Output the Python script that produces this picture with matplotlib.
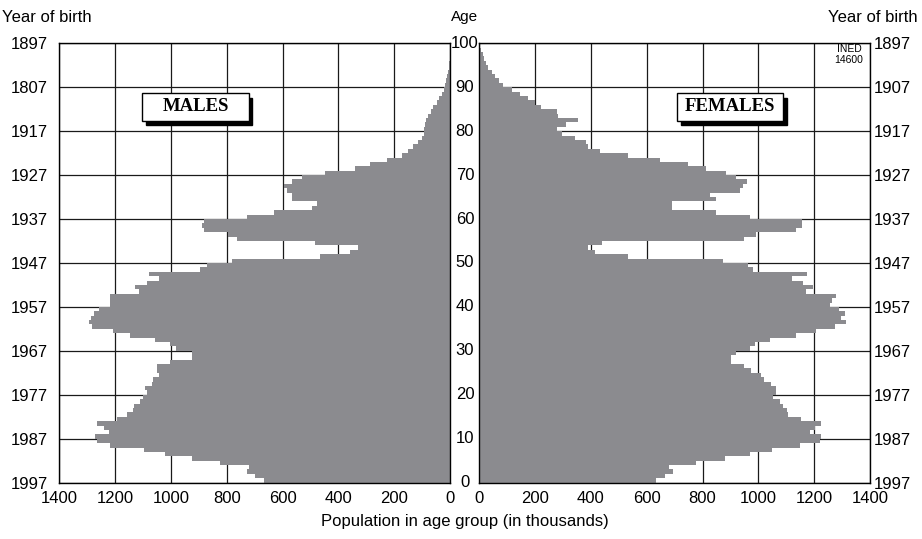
import matplotlib
matplotlib.use("Agg")
import matplotlib.pyplot as plt
from matplotlib.patches import Rectangle
from matplotlib.transforms import blended_transform_factory
import numpy as np

plt.rcParams['font.family'] = ['Liberation Sans', 'DejaVu Sans']

# population by single year of age (thousands), ages 0..99
ages = np.arange(100)
males = [668, 698, 728, 722, 823, 925, 1020, 1098, 1217, 1265,
         1271, 1223, 1241, 1265, 1193, 1158, 1136, 1134, 1110, 1100,
         1086, 1092, 1068, 1065, 1044, 1050, 1050, 1003, 925, 925,
         982, 1003, 1056, 1147, 1207, 1281, 1295, 1287, 1277, 1259,
         1217, 1217, 1217, 1113, 1128, 1087, 1042, 1080, 895, 871,
         782, 465, 358, 328, 483, 764, 794, 883, 889, 883,
         726, 630, 495, 477, 565, 565, 585, 594, 567, 529,
         447, 340, 286, 227, 173, 150, 131, 113, 101, 93,
         93, 90, 86, 78, 69, 60, 48, 38, 30, 21,
         18, 14, 10, 7, 4, 2, 1, 1, 0.5, 0.5]
females = [633, 665, 695, 680, 778, 880, 969, 1048, 1148, 1220,
           1226, 1184, 1202, 1226, 1152, 1107, 1101, 1089, 1077, 1053,
           1065, 1065, 1044, 1021, 1011, 973, 948, 901, 901, 919,
           969, 987, 1041, 1136, 1205, 1273, 1315, 1297, 1309, 1289,
           1256, 1263, 1277, 1170, 1194, 1160, 1122, 1176, 981, 963,
           874, 534, 414, 390, 440, 948, 993, 1134, 1156, 1156,
           969, 850, 689, 689, 850, 826, 936, 945, 961, 919,
           883, 814, 748, 647, 533, 432, 390, 384, 342, 295,
           279, 310, 354, 283, 279, 220, 199, 175, 146, 116,
           84, 72, 56, 44, 32, 24, 17, 12, 8, 2]

age_ticks = list(range(0, 101, 10))
years_left = ['1997', '1987', '1977', '1967', '1957', '1947', '1937', '1927', '1917', '1807', '1897']
years_right = ['1997', '1987', '1977', '1967', '1957', '1947', '1937', '1927', '1917', '1907', '1897']
pop_ticks = list(range(0, 1401, 200))

bar_col = '#8b8b8f'

fig = plt.figure(figsize=(9.22, 5.39), dpi=100)
axl = fig.add_axes([0.0643, 0.1045, 0.4238, 0.8152])
axr = fig.add_axes([0.5198, 0.1045, 0.4238, 0.8152])

for ax, vals in ((axl, males), (axr, females)):
    ax.barh(ages, vals, height=1.0, align='edge', color=bar_col, linewidth=0, zorder=2)
    ax.set_ylim(0, 100)
    ax.set_xticks(pop_ticks)
    ax.set_xticklabels([str(t) for t in pop_ticks], fontsize=12)
    ax.set_yticks(age_ticks)
    ax.grid(True, color='#1a1a1a', linewidth=0.9)
    ax.set_axisbelow(True)
    ax.tick_params(length=0)
    ax.tick_params(axis='x', pad=6)
    for s in ax.spines.values():
        s.set_linewidth(1.0)
        s.set_color('black')

axl.set_xlim(1400, 0)
axr.set_xlim(0, 1400)

axl.set_yticklabels(years_left, fontsize=12)
axl.tick_params(axis='y', pad=8)
axr.yaxis.tick_right()
axr.set_yticklabels(years_right, fontsize=12)
axr.tick_params(axis='y', pad=2.5)

# age labels between the two halves
tr = blended_transform_factory(fig.transFigure, axl.transData)
for a in age_ticks:
    fig.text(0.5043, a, str(a), transform=tr, ha='center', va='center', fontsize=12)

fig.text(0.002, 0.968, 'Year of birth', ha='left', va='center', fontsize=12)
fig.text(0.9957, 0.968, 'Year of birth', ha='right', va='center', fontsize=12)
fig.text(0.5043, 0.968, 'Age', ha='center', va='center', fontsize=11)
fig.text(0.5043, 0.032, 'Population in age group (in thousands)', ha='center', va='center', fontsize=12)

# boxed labels with a solid drop shadow
dx, dy = 13, 0.95
for ax, x0, x1, lab in ((axl, 1103, 721, 'MALES'), (axr, 709, 1088, 'FEMALES')):
    sgn = -1 if ax is axl else 1
    lo, hi = min(x0, x1), max(x0, x1)
    ax.add_patch(Rectangle((lo + sgn * dx, 82.4 - dy), hi - lo, 6.2,
                           facecolor='black', edgecolor='black', zorder=4))
    ax.add_patch(Rectangle((lo, 82.4), hi - lo, 6.2,
                           facecolor='white', edgecolor='black', linewidth=1.0, zorder=5))
    ax.text((x0 + x1) / 2, 85.5, lab, ha='center', va='center', fontsize=13.5,
            family='Liberation Serif', fontweight='bold', zorder=6)

axr.text(1325, 97.4, 'INED\n14600', ha='center', va='center', fontsize=7.5, linespacing=1.1, zorder=5)

fig.savefig('out.png', dpi=100)
